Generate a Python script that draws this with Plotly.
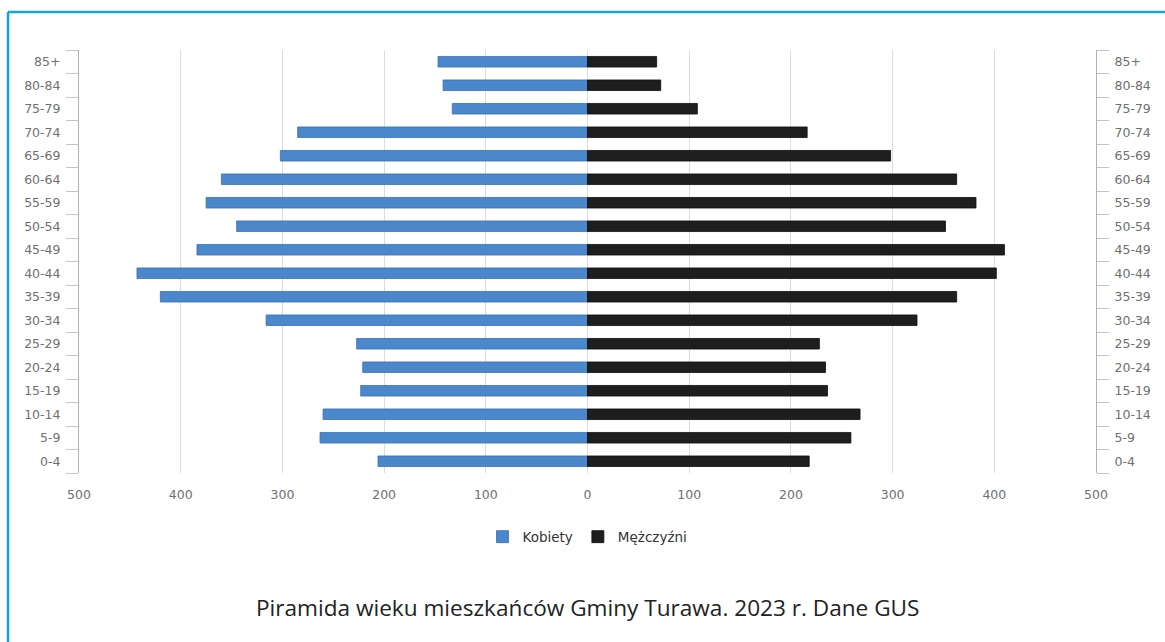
import plotly.graph_objects as go

age_groups = ["0-4", "5-9", "10-14", "15-19", "20-24", "25-29", "30-34", "35-39",
              "40-44", "45-49", "50-54", "55-59", "60-64", "65-69", "70-74",
              "75-79", "80-84", "85+"]
women = [206, 263, 260, 223, 221, 227, 316, 420, 443, 384, 345, 375, 360, 302, 285, 133, 142, 147]
men = [218, 259, 268, 236, 234, 228, 324, 363, 402, 410, 352, 382, 363, 298, 216, 108, 72, 68]
x_ticks = [-500, -400, -300, -200, -100, 0, 100, 200, 300, 400, 500]
x_tick_text = ["500", "400", "300", "200", "100", "0", "100", "200", "300", "400", "500"]

title_text = "Piramida wieku mieszkańców Gminy Turawa. 2023 r. Dane GUS"

fig = go.Figure()
fig.add_trace(go.Bar(
    y=age_groups, x=[-v for v in women], orientation="h", name="Kobiety",
    marker=dict(color="#4a87cb", line=dict(color="#3b70b2", width=0.8)),
    yaxis="y",
))
fig.add_trace(go.Bar(
    y=age_groups, x=men, orientation="h", name="Mężczyźni",
    marker=dict(color="#1e1e1e", line=dict(color="#0e0e0e", width=0.8)),
    yaxis="y2",
))

tick_font = dict(family="DejaVu Sans", size=12.5, color="#707070")
yaxis_common = dict(
    type="category", categoryorder="array", categoryarray=age_groups,
    range=[-0.5, len(age_groups) - 0.5], showgrid=False, zeroline=False,
    showline=True, linecolor="#b0b0b0", linewidth=1,
    ticks="outside", tickson="boundaries", ticklen=12, tickcolor="#c4c4c4",
    tickfont=tick_font, fixedrange=True, ticklabelstandoff=15,
)

fig.update_layout(
    width=1165, height=642,
    margin=dict(l=79, r=69, t=50, b=169),
    paper_bgcolor="white", plot_bgcolor="white",
    barmode="overlay", bargap=0.55,
    showlegend=True,
    legend=dict(orientation="h", x=0.5, xanchor="center", y=-0.151, yanchor="middle",
                font=dict(family="DejaVu Sans", size=13.5, color="#333333"),
                itemwidth=30, traceorder="normal"),
    xaxis=dict(range=[-500, 500], tickvals=x_ticks, ticktext=x_tick_text,
               showgrid=True, gridcolor="#dcdcdc", gridwidth=1,
               zeroline=True, zerolinecolor="#dcdcdc", zerolinewidth=1,
               showline=False, ticks="", tickfont=tick_font, ticklabelstandoff=12),
    yaxis=dict(side="left", **yaxis_common),
    yaxis2=dict(side="right", overlaying="y", anchor="x", **yaxis_common),
    font=dict(family="DejaVu Sans"),
)

fig.add_annotation(
    text=title_text, xref="paper", yref="paper", x=0.5, y=-0.317,
    xanchor="center", yanchor="middle", showarrow=False,
    font=dict(family="Open Sans", size=22.6, color="#222222"),
)

# Teal frame (top and left edges)
fig.add_shape(type="line", xref="paper", yref="paper",
              x0=-0.0698, x1=-0.0698, y0=-0.45, y1=1.0898,
              line=dict(color="#16a2dc", width=2.5))
fig.add_shape(type="line", xref="paper", yref="paper",
              x0=-0.0698, x1=1.1, y0=1.0898, y1=1.0898,
              line=dict(color="#16a2dc", width=2.5))

fig.write_html("out.html")
